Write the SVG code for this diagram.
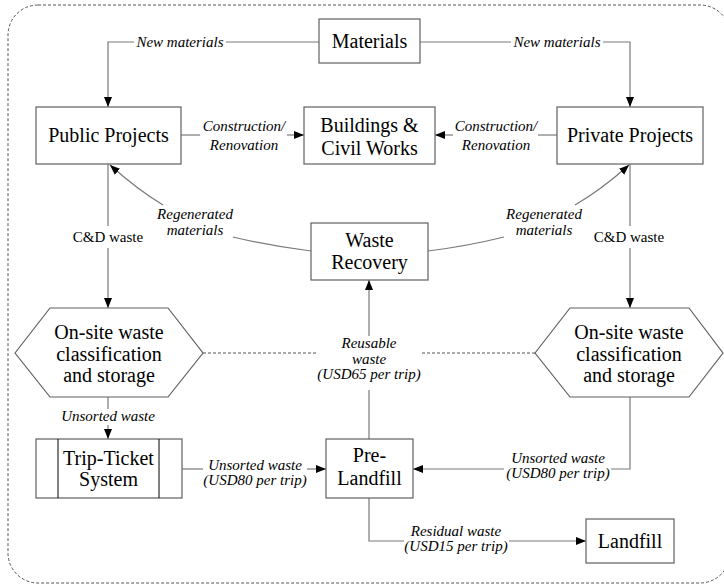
<svg xmlns="http://www.w3.org/2000/svg" width="724" height="586" viewBox="0 0 724 586">
<style>
.box{fill:#fff;stroke:#606060;stroke-width:1.2}
text{font-family:'Liberation Serif','DejaVu Serif','Noto Serif',serif;fill:#000;text-anchor:middle}
.t{font-size:20px}
.l{font-size:15px;font-style:italic}
.u{font-size:15px}
.c{fill:none;stroke:#7a7a7a;stroke-width:1.2}
.a{marker-end:url(#arr)}
.d{fill:none;stroke:#555;stroke-width:1;stroke-dasharray:3 2}
</style>
<defs>
<marker id="arr" markerUnits="userSpaceOnUse" markerWidth="10" markerHeight="10" viewBox="0 0 10 8" refX="10" refY="4" orient="auto">
<path d="M0,0 L10,4 L0,8 z" fill="#000"/>
</marker>
</defs>
<rect x="8" y="5" width="722" height="578" rx="30" ry="30" class="d"/>
<g id="connectors">
<path class="c" d="M319,42 H226"/>
<path class="c a" d="M134,42 H108 V107"/>
<path class="c" d="M420,42 H511"/>
<path class="c a" d="M603,42 H630 V107"/>
<path class="c" d="M181,135 H200"/>
<path class="c a" d="M287,135 H304"/>
<path class="c" d="M557,135 H538"/>
<path class="c a" d="M453,135 H435"/>
<path class="c" d="M108,164 V226"/>
<path class="c a" d="M108,248 V308"/>
<path class="c" d="M630,164 V226"/>
<path class="c a" d="M630,248 V308"/>
<path class="c" d="M311,251 Q270,246 233,237"/>
<path class="c a" d="M163,205 Q138,190 110,165"/>
<path class="c" d="M428,251 Q468,246 504,237"/>
<path class="c a" d="M575,205 Q601,190 629,165"/>
<path class="c" d="M108,397 V409"/>
<path class="c a" d="M108,425 V439"/>
<path class="c" d="M182,469 H203"/>
<path class="c a" d="M307,469 H326"/>
<path class="c" d="M630,397 V469 H611"/>
<path class="c a" d="M504,469 H413"/>
<path class="c" d="M369,439 V390"/>
<path class="c a" d="M369,336 V280"/>
<path class="c" d="M369,498 V541 H404"/>
<path class="c a" d="M509,541 H586"/>
<path class="d" d="M203,353 H316"/>
<path class="d" d="M422,353 H535"/>
<text class="l" x="180" y="47">New materials</text>
<text class="l" x="557" y="47">New materials</text>
<text class="l" x="244" y="131">Construction/</text>
<text class="l" x="244" y="150">Renovation</text>
<text class="l" x="496" y="131">Construction/</text>
<text class="l" x="496" y="150">Renovation</text>
<text class="l" x="195" y="219">Regenerated</text>
<text class="l" x="195" y="235">materials</text>
<text class="l" x="544" y="219">Regenerated</text>
<text class="l" x="544" y="235">materials</text>
<text class="u" x="108" y="242">C&amp;D waste</text>
<text class="u" x="629" y="242">C&amp;D waste</text>
<text class="l" x="369" y="348">Reusable</text>
<text class="l" x="369" y="364">waste</text>
<text class="l" x="369" y="379">(USD65 per trip)</text>
<text class="l" x="108" y="421">Unsorted waste</text>
<text class="l" x="255" y="470">Unsorted waste</text>
<text class="l" x="255" y="485">(USD80 per trip)</text>
<text class="l" x="558" y="463">Unsorted waste</text>
<text class="l" x="558" y="478">(USD80 per trip)</text>
<text class="l" x="456" y="536">Residual waste</text>
<text class="l" x="456" y="551">(USD15 per trip)</text>
</g>
<g id="materials">
<rect class="box" x="319" y="19" width="101" height="44"/>
<text class="t" x="369.5" y="48">Materials</text>
</g>
<g id="public">
<rect class="box" x="36" y="107" width="145" height="57"/>
<text class="t" x="108.5" y="142">Public Projects</text>
</g>
<g id="buildings">
<rect class="box" x="304" y="107" width="131" height="57"/>
<text class="t" x="369.5" y="132">Buildings &amp;</text>
<text class="t" x="369.5" y="155">Civil Works</text>
</g>
<g id="private">
<rect class="box" x="557" y="107" width="146" height="57"/>
<text class="t" x="630" y="142">Private Projects</text>
</g>
<g id="recovery">
<rect class="box" x="311" y="223" width="117" height="57"/>
<text class="t" x="369.5" y="247">Waste</text>
<text class="t" x="369.5" y="269">Recovery</text>
</g>
<g id="hex-left">
<polygon class="box" points="15,353 50,308 168,308 203,353 168,397 50,397"/>
<text class="t" x="109" y="339">On-site waste</text>
<text class="t" x="109" y="361">classification</text>
<text class="t" x="109" y="382">and storage</text>
</g>
<g id="hex-right">
<polygon class="box" points="535,353 570,308 689,308 723,353 689,397 570,397"/>
<text class="t" x="629" y="339">On-site waste</text>
<text class="t" x="629" y="361">classification</text>
<text class="t" x="629" y="382">and storage</text>
</g>
<g id="trip">
<rect class="box" x="36" y="439" width="146" height="59"/>
<line x1="58" y1="439" x2="58" y2="498" stroke="#000" stroke-width="1"/>
<line x1="159" y1="439" x2="159" y2="498" stroke="#000" stroke-width="1"/>
<text class="t" x="108.5" y="465">Trip-Ticket</text>
<text class="t" x="108.5" y="486">System</text>
</g>
<g id="prelandfill">
<rect class="box" x="326" y="439" width="87" height="59"/>
<text class="t" x="369.5" y="462">Pre-</text>
<text class="t" x="369.5" y="485">Landfill</text>
</g>
<g id="landfill">
<rect class="box" x="586" y="519" width="88" height="44"/>
<text class="t" x="630" y="548">Landfill</text>
</g>
</svg>
